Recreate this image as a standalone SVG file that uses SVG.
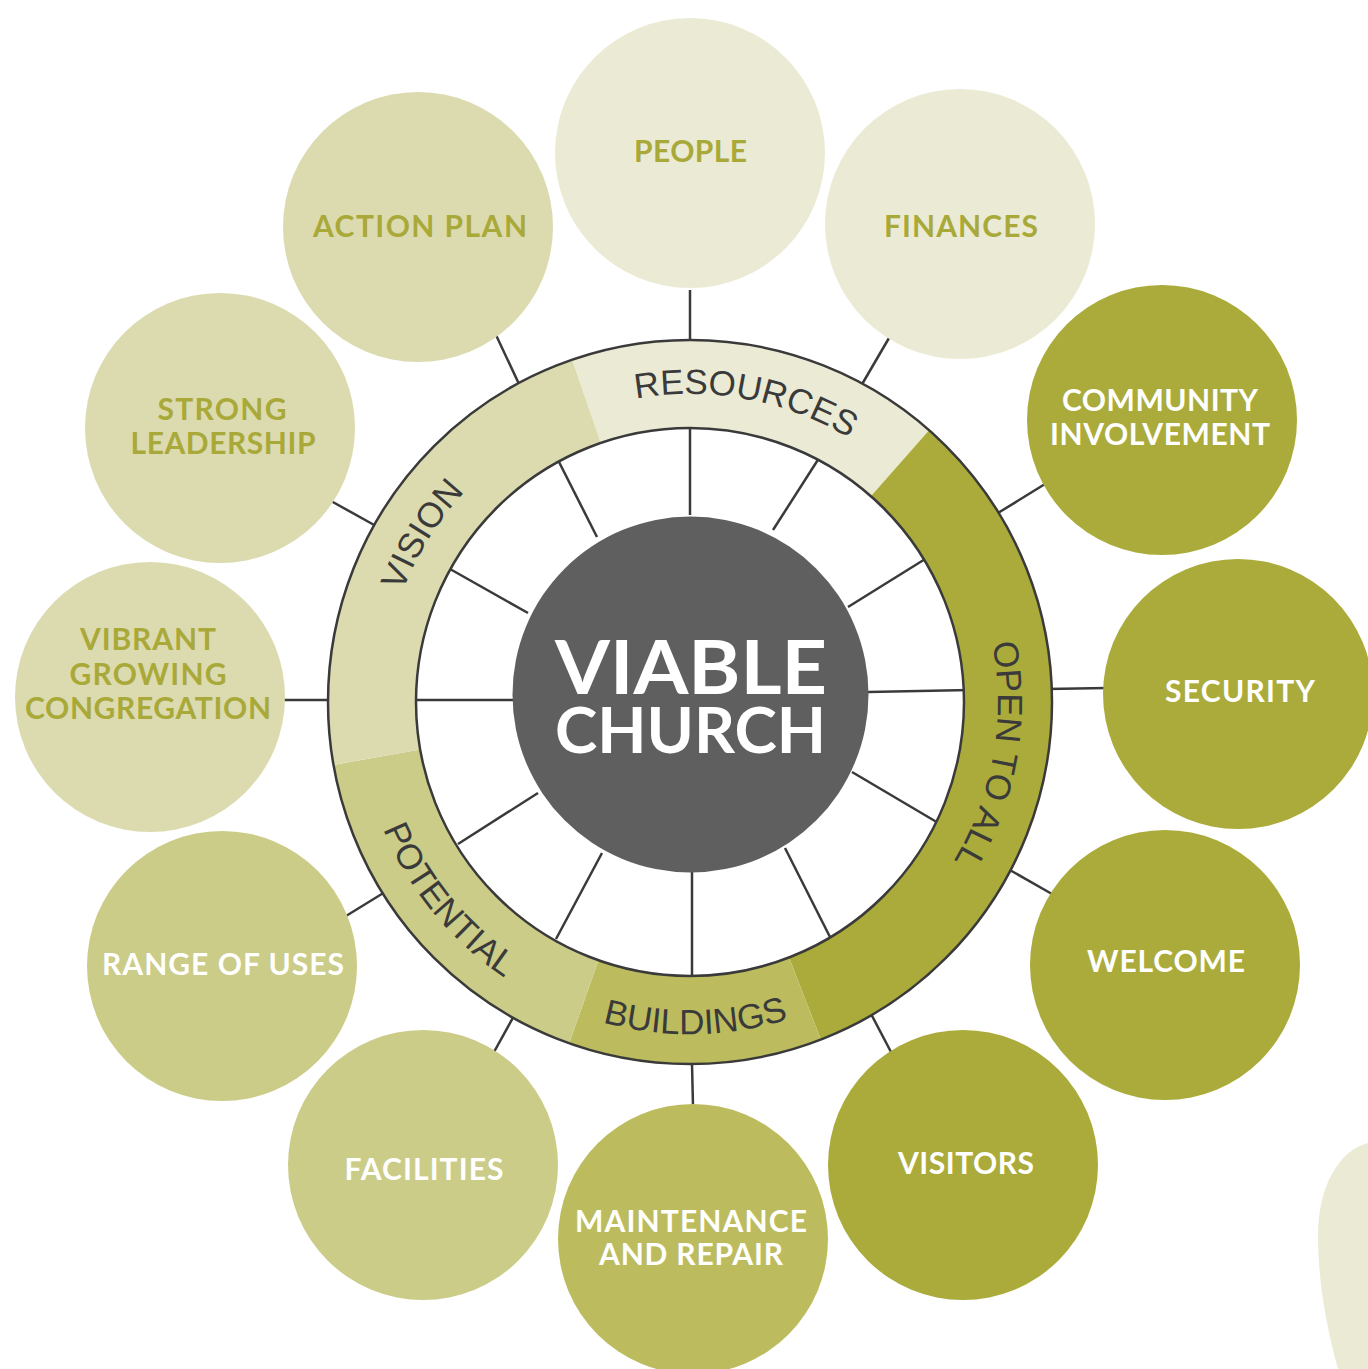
<svg xmlns="http://www.w3.org/2000/svg" width="1368" height="1369" viewBox="0 0 1368 1369">
<style>
.bg{fill:#ffffff}
.ln{stroke:#3a3a3a;stroke-width:2.5;fill:none;stroke-linecap:butt}
.c1{fill:#ebebd5}
.c2{fill:#dcdbb0}
.c3{fill:#cbcc88}
.c4{fill:#bcbc5e}
.c5{fill:#abab3b}
.hub{fill:#5f5f5f}
.lbl{font-family:Lato,"Open Sans","DejaVu Sans",sans-serif;font-weight:700;font-size:30px;text-anchor:middle}
.dk{fill:#a9a93a}
.wt{fill:#ffffff}
.ring{font-family:"Liberation Sans",Arial,sans-serif;font-size:35px;fill:#3a3a3a}
.big{font-family:Lato,"Open Sans","DejaVu Sans",sans-serif;font-weight:700;fill:#ffffff;text-anchor:middle}
</style>
<defs>
<path id="pRes" d="M393.2,619.7 A308,308 0 0 1 996.6,731.5"/>
<path id="pVis" d="M504.6,948 A308,308 0 0 1 829.8,427.6"/>
<path id="pOpen" d="M769.7,404.5 A308,308 0 0 1 663.1,1008.8"/>
<path id="pPot" d="M458.1,464.4 A332,332 0 0 0 877.1,976.3"/>
<path id="pBld" d="M359.8,736.7 A332,332 0 0 0 1021.2,725.2"/>
</defs>
<rect class="bg" x="0" y="0" width="1368" height="1369"/>
<path class="c1" d="M1368,1143 C1340,1150 1318,1185 1318,1235 C1318,1290 1330,1340 1338,1369 L1368,1369 Z"/>

<g id="connectors">
<line class="ln" x1="690" y1="515" x2="690" y2="424"/>
<line class="ln" x1="773" y1="530" x2="821" y2="455"/>
<line class="ln" x1="848" y1="607" x2="930" y2="556"/>
<line class="ln" x1="868" y1="692" x2="970" y2="690"/>
<line class="ln" x1="852" y1="772" x2="940" y2="824"/>
<line class="ln" x1="785" y1="848" x2="831" y2="939"/>
<line class="ln" x1="692" y1="871" x2="692" y2="975"/>
<line class="ln" x1="602" y1="853" x2="556" y2="939"/>
<line class="ln" x1="538" y1="793" x2="458" y2="844"/>
<line class="ln" x1="513" y1="700" x2="415" y2="700"/>
<line class="ln" x1="528" y1="613" x2="450" y2="569"/>
<line class="ln" x1="597" y1="537" x2="557" y2="458"/>
<line class="ln" x1="690" y1="290" x2="690" y2="342"/>
<line class="ln" x1="889" y1="338" x2="861" y2="386"/>
<line class="ln" x1="1045" y1="484" x2="998" y2="513"/>
<line class="ln" x1="1107" y1="688" x2="1047" y2="689"/>
<line class="ln" x1="1052" y1="894" x2="1008" y2="869"/>
<line class="ln" x1="891" y1="1052" x2="870" y2="1012"/>
<line class="ln" x1="693" y1="1106" x2="692" y2="1064"/>
<line class="ln" x1="494" y1="1052" x2="515" y2="1014"/>
<line class="ln" x1="346" y1="916" x2="385" y2="892"/>
<line class="ln" x1="283" y1="700" x2="331" y2="700"/>
<line class="ln" x1="331" y1="501" x2="376" y2="526"/>
<line class="ln" x1="496" y1="335" x2="519" y2="384"/>
</g>

<g id="ring-resources">
<path class="c1" d="M572.1,359.7 A362,362 0 0 1 929.1,430.2 L870.9,496.3 A274,274 0 0 0 600.8,442.9 Z"/>
<text class="ring"><textPath href="#pRes" startOffset="50%" text-anchor="middle">RESOURCES</textPath></text>
</g>
<g id="ring-open-to-all">
<path class="c5" d="M929.1,430.2 A362,362 0 0 1 820.9,1039.5 L789.1,957.5 A274,274 0 0 0 870.9,496.3 Z"/>
<text class="ring"><textPath href="#pOpen" startOffset="50%" text-anchor="middle">OPEN TO ALL</textPath></text>
</g>
<g id="ring-buildings">
<path class="c4" d="M820.9,1039.5 A362,362 0 0 1 569.2,1043.2 L598.5,960.3 A274,274 0 0 0 789.1,957.5 Z"/>
<text class="ring"><textPath href="#pBld" startOffset="50%" text-anchor="middle">BUILDINGS</textPath></text>
</g>
<g id="ring-potential">
<path class="c3" d="M569.2,1043.2 A362,362 0 0 1 333.5,764.9 L420.2,749.6 A274,274 0 0 0 598.5,960.3 Z"/>
<text class="ring"><textPath href="#pPot" startOffset="50%" text-anchor="middle">POTENTIAL</textPath></text>
</g>
<g id="ring-vision">
<path class="c2" d="M333.5,764.9 A362,362 0 0 1 572.1,359.7 L600.8,442.9 A274,274 0 0 0 420.2,749.6 Z"/>
<text class="ring"><textPath href="#pVis" startOffset="50%" text-anchor="middle">VISION</textPath></text>
</g>
<g id="ring-outline">
<circle class="ln" cx="690" cy="702" r="362"/>
<circle class="ln" cx="690" cy="702" r="274"/>
</g>

<g id="hub">
<circle class="hub" cx="690.5" cy="694.5" r="178"/>
<text class="big" x="691" y="694" font-size="75" textLength="272" lengthAdjust="spacingAndGlyphs">VIABLE</text>
<text class="big" x="690.5" y="753" font-size="64" textLength="271" lengthAdjust="spacingAndGlyphs">CHURCH</text>
</g>

<g id="people"><circle class="c1" cx="690" cy="153" r="135"/><text class="lbl dk" x="690.5" y="162" textLength="113">PEOPLE</text></g>
<g id="finances"><circle class="c1" cx="960" cy="224" r="135"/><text class="lbl dk" x="961" y="237" textLength="154">FINANCES</text></g>
<g id="community-involvement"><circle class="c5" cx="1162" cy="420" r="135"/><text class="lbl wt" x="1160" y="411" textLength="196">COMMUNITY</text><text class="lbl wt" x="1160" y="445" textLength="220">INVOLVEMENT</text></g>
<g id="security"><circle class="c5" cx="1238" cy="694" r="135"/><text class="lbl wt" x="1240" y="702" textLength="150">SECURITY</text></g>
<g id="welcome"><circle class="c5" cx="1165" cy="965" r="135"/><text class="lbl wt" x="1166" y="972" textLength="158">WELCOME</text></g>
<g id="visitors"><circle class="c5" cx="963" cy="1165" r="135"/><text class="lbl wt" x="966" y="1174" textLength="136">VISITORS</text></g>
<g id="maintenance-and-repair"><circle class="c4" cx="693" cy="1239" r="135"/><text class="lbl wt" x="691" y="1232" textLength="232">MAINTENANCE</text><text class="lbl wt" x="691" y="1265" textLength="184">AND REPAIR</text></g>
<g id="facilities"><circle class="c3" cx="423" cy="1165" r="135"/><text class="lbl wt" x="424" y="1180" textLength="159">FACILITIES</text></g>
<g id="range-of-uses"><circle class="c3" cx="222" cy="966" r="135"/><text class="lbl wt" x="223" y="975" textLength="242">RANGE OF USES</text></g>
<g id="vibrant-growing-congregation"><circle class="c2" cx="150" cy="697" r="135"/><text class="lbl dk" x="148" y="650" textLength="136">VIBRANT</text><text class="lbl dk" x="148" y="685" textLength="157">GROWING</text><text class="lbl dk" x="148" y="719" textLength="246">CONGREGATION</text></g>
<g id="strong-leadership"><circle class="c2" cx="220" cy="428" r="135"/><text class="lbl dk" x="222" y="420" textLength="129">STRONG</text><text class="lbl dk" x="223" y="454" textLength="185">LEADERSHIP</text></g>
<g id="action-plan"><circle class="c2" cx="418" cy="227" r="135"/><text class="lbl dk" x="420" y="237" textLength="214">ACTION PLAN</text></g>
</svg>
